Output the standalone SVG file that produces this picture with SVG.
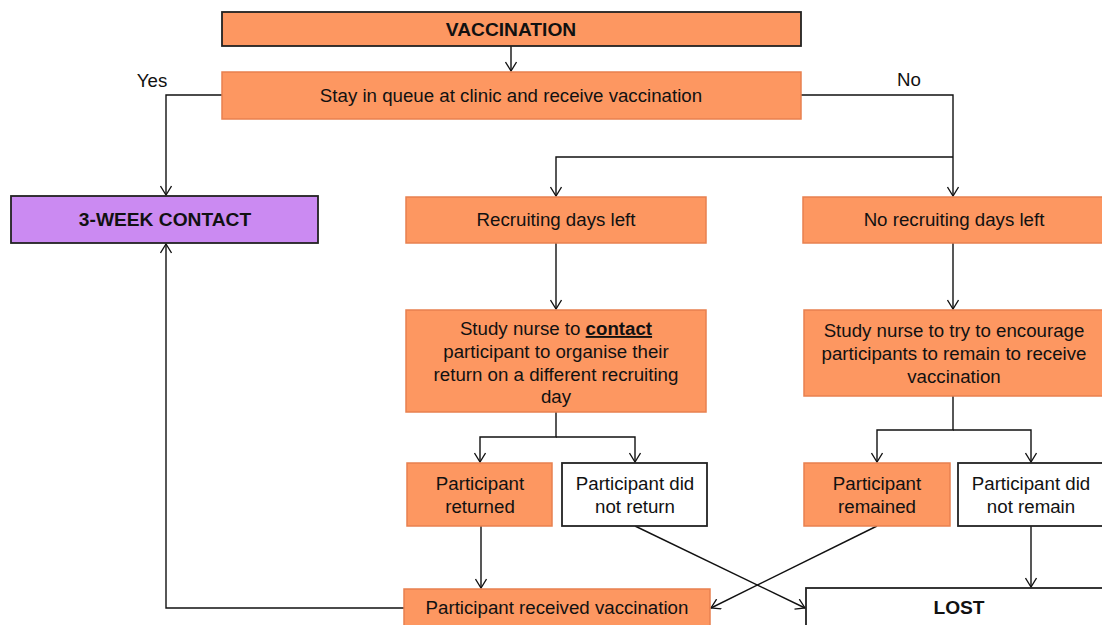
<svg xmlns="http://www.w3.org/2000/svg" width="1102" height="625" viewBox="0 0 1102 625">
<defs>
<marker id="arr" markerWidth="12" markerHeight="12" refX="10" refY="6" orient="auto" markerUnits="userSpaceOnUse">
<path d="M1,0.5 L10,6 L1,11.5" fill="none" stroke="#111" stroke-width="1.3"/>
</marker>
<style>
.o{fill:#FD9761;stroke:#E8804F;stroke-width:1.5}
.od{fill:#FD9761;stroke:#222;stroke-width:1.8}
.p{fill:#CB8AF2;stroke:#222;stroke-width:1.8}
.w{fill:#fff;stroke:#222;stroke-width:1.8}
text{font-family:"Liberation Sans",Arial,sans-serif;font-size:18.7px;fill:#111;text-anchor:middle}
.b{font-weight:bold;font-size:19.2px}
.c{fill:none;stroke:#111;stroke-width:1.4}
</style>
</defs>
<rect width="1102" height="625" fill="#fff"/>
<g id="connectors">
<path class="c" d="M511,46 V71" marker-end="url(#arr)"/>
<path class="c" d="M222,95 H166 V195" marker-end="url(#arr)"/>
<path class="c" d="M801,95 H953 V196" marker-end="url(#arr)"/>
<path class="c" d="M953,157 H556 V196" marker-end="url(#arr)"/>
<path class="c" d="M556,243 V309" marker-end="url(#arr)"/>
<path class="c" d="M953,243 V309" marker-end="url(#arr)"/>
<path class="c" d="M556,412 V437 H480 V462" marker-end="url(#arr)"/>
<path class="c" d="M556,437 H635 V462" marker-end="url(#arr)"/>
<path class="c" d="M953,396 V430 H877 V462" marker-end="url(#arr)"/>
<path class="c" d="M953,430 H1031 V462" marker-end="url(#arr)"/>
<path class="c" d="M481,526 V588" marker-end="url(#arr)"/>
<path class="c" d="M404,608 H166 V244" marker-end="url(#arr)"/>
<path class="c" d="M635,526 L805,608" marker-end="url(#arr)"/>
<path class="c" d="M877,526 L711,608" marker-end="url(#arr)"/>
<path class="c" d="M1031,526 V587" marker-end="url(#arr)"/>
</g>
<text x="152" y="87">Yes</text>
<text x="909" y="86">No</text>
<g id="vaccination"><rect class="od" x="222" y="12" width="579" height="34"/><text class="b" x="511" y="36">VACCINATION</text></g>
<g id="stay"><rect class="o" x="222" y="72" width="579" height="47"/><text x="511" y="102">Stay in queue at clinic and receive vaccination</text></g>
<g id="threeweek"><rect class="p" x="11" y="196" width="307" height="47"/><text class="b" x="165" y="226">3-WEEK CONTACT</text></g>
<g id="recruiting"><rect class="o" x="406" y="197" width="300" height="46"/><text x="556" y="226">Recruiting days left</text></g>
<g id="norecruiting"><rect class="o" x="803" y="197" width="310" height="46"/><text x="954" y="226">No recruiting days left</text></g>
<g id="nursecontact"><rect class="o" x="406" y="310" width="300" height="102"/>
<text x="556" y="335">Study nurse to <tspan class="b" text-decoration="underline" style="font-size:18.7px">contact</tspan></text>
<text x="556" y="358">participant to organise their</text>
<text x="556" y="381">return on a different recruiting</text>
<text x="556" y="403">day</text></g>
<g id="nurseencourage"><rect class="o" x="804" y="310" width="310" height="86"/>
<text x="954" y="337">Study nurse to try to encourage</text>
<text x="954" y="360">participants to remain to receive</text>
<text x="954" y="383">vaccination</text></g>
<g id="returned"><rect class="o" x="407" y="463" width="145" height="63"/><text x="480" y="490">Participant</text><text x="480" y="513">returned</text></g>
<g id="notreturned"><rect class="w" x="562" y="463" width="145" height="63"/><text x="635" y="490">Participant did</text><text x="635" y="513">not return</text></g>
<g id="remained"><rect class="o" x="804" y="463" width="146" height="63"/><text x="877" y="490">Participant</text><text x="877" y="513">remained</text></g>
<g id="notremained"><rect class="w" x="958" y="463" width="150" height="63"/><text x="1031" y="490">Participant did</text><text x="1031" y="513">not remain</text></g>
<g id="received"><rect class="o" x="404" y="589" width="306" height="45"/><text x="557" y="614">Participant received vaccination</text></g>
<g id="lost"><rect class="w" x="806" y="588" width="305" height="45"/><text class="b" x="959" y="614">LOST</text></g>
</svg>
